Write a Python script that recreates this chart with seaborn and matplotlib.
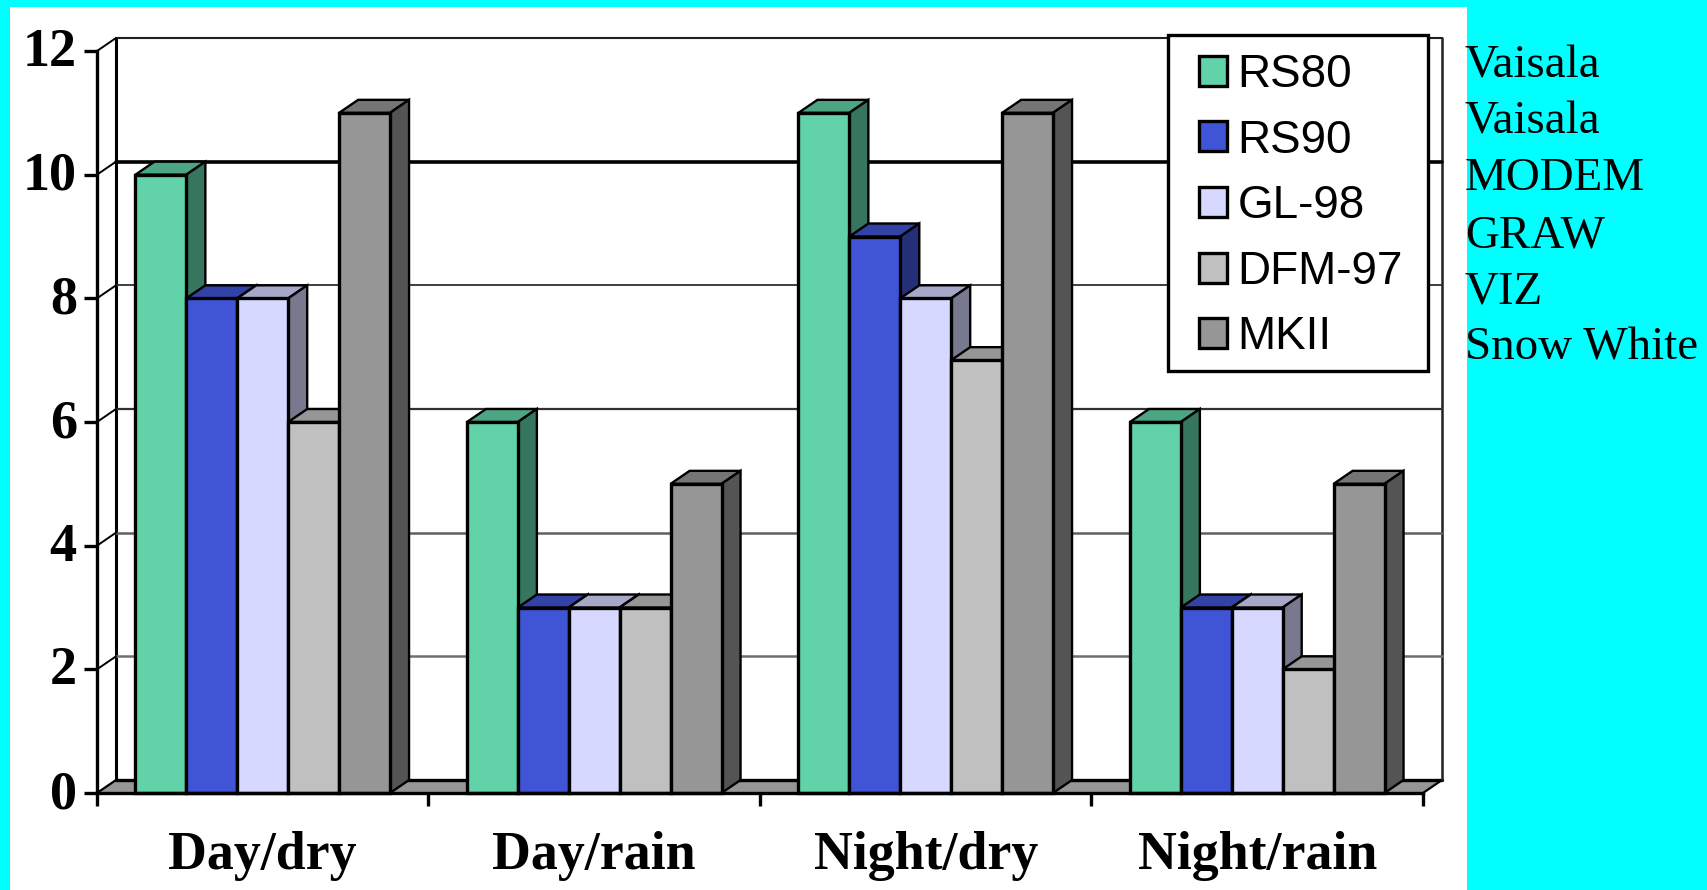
import pandas as pd
import matplotlib
matplotlib.use("Agg")
import matplotlib.pyplot as plt
import seaborn as sns
from matplotlib.patches import Polygon, Rectangle
from matplotlib.transforms import ScaledTranslation

# Values
conditions = ['Day/dry', 'Day/rain', 'Night/dry', 'Night/rain']
rs80 = [10, 6, 11, 6]
rs90 = [8, 3, 9, 3]
gl98 = [8, 3, 8, 3]
dfm97 = [6, 3, 7, 2]
mkii = [11, 5, 11, 5]
sonde_names = ['RS80', 'RS90', 'GL-98', 'DFM-97', 'MKII']
makers = ['Vaisala', 'Vaisala', 'MODEM', 'GRAW', 'VIZ', 'Snow White']
y_ticks = [0, 2, 4, 6, 8, 10, 12]

colors = ['#62D3A8', '#4054D6', '#D6D8FF', '#C0C0C0', '#969696']
# grid lines come out uneven in the original, so each has its own look
grid_style = {2: ('#707070', 1.8), 4: ('#606060', 1.8), 6: ('#303030', 1.6),
              8: ('#303030', 1.3), 10: ('#000000', 2.6), 12: ('#202020', 1.5)}

rows = []
for name, vals in zip(sonde_names, [rs80, rs90, gl98, dfm97, mkii]):
    for cond, v in zip(conditions, vals):
        rows.append({'condition': cond, 'sonde': name, 'count': v})
df = pd.DataFrame(rows)

W, H = 1708, 890
sns.set_style('white')
plt.rcParams['font.family'] = ['Liberation Serif', 'DejaVu Serif']
plt.rcParams['text.color'] = 'black'

fig = plt.figure(figsize=(W / 100, H / 100), dpi=100, facecolor='#00FFFF')
fig.patches.append(Rectangle((10 / W, 0), 1457 / W, 1 - 7 / H, transform=fig.transFigure,
                             facecolor='white', edgecolor='none', zorder=-5))

ax = fig.add_axes([97 / W, 1 - 793 / H, 1326 / W, 742 / H])
ax.patch.set_alpha(0)

sns.barplot(data=df, x='condition', y='count', hue='sonde', hue_order=sonde_names,
            order=conditions, palette=colors, saturation=1, width=0.768,
            edgecolor='black', linewidth=2.4, ax=ax)
ax.set_xlim(-0.5, 3.5)
ax.set_ylim(0, 12)

# fake 3D depth
dx = 19 / (1326 / 4)
dy = 13 / (742 / 12)
x0, x1 = ax.get_xlim()


def shade(col, f):
    r, g, b = matplotlib.colors.to_rgb(col)
    return (r * f, g * f, b * f)


# floor and back wall
ax.add_patch(Polygon([(x0, 0), (x0 + dx, dy), (x1 + dx, dy), (x1, 0)], closed=True,
                     facecolor='#969696', edgecolor='none', clip_on=False, zorder=0.5))
ax.plot([x0 + dx, x1 + dx], [dy, dy], color='black', lw=2.4, clip_on=False, zorder=1)
ax.plot([x0, x0 + dx], [0, dy], color='black', lw=1.6, clip_on=False, zorder=1)
ax.plot([x1, x1 + dx], [0, dy], color='black', lw=1.6, clip_on=False, zorder=1)
ax.plot([x0 + dx, x0 + dx], [dy, 12 + dy], color='black', lw=2.2, clip_on=False, zorder=1)
ax.plot([x1 + dx, x1 + dx], [dy, 12 + dy], color='#202020', lw=1.8, clip_on=False, zorder=1)
for t, (c, lw) in grid_style.items():
    ax.plot([x0 + dx, x1 + dx], [t + dy, t + dy], color=c, lw=lw, clip_on=False, zorder=1)
    ax.plot([x0, x0 + dx], [t, t + dy], color='black', lw=1.4, clip_on=False, zorder=1)

# bars are painted left to right so the next bar hides the side of the last one
for s, bars in enumerate(ax.containers):
    col = colors[s]
    z = 5 + s
    for bar in bars:
        bx, bw, bh = bar.get_x(), bar.get_width(), bar.get_height()
        top = [(bx, bh), (bx + dx, bh + dy), (bx + bw + dx, bh + dy), (bx + bw, bh)]
        side = [(bx + bw, 0), (bx + bw + dx, dy), (bx + bw + dx, bh + dy), (bx + bw, bh)]
        ax.add_patch(Polygon(top, closed=True, facecolor=shade(col, 0.78), edgecolor='black',
                             lw=1.7, clip_on=False, zorder=z))
        ax.add_patch(Polygon(side, closed=True, facecolor=shade(col, 0.56), edgecolor='black',
                             lw=1.7, clip_on=False, zorder=z))
        bar.set_zorder(z + 0.5)
        bar.set_clip_on(False)

sns.despine(ax=ax, top=True, right=True)
for sp in ['left', 'bottom']:
    ax.spines[sp].set_linewidth(2.4)
    ax.spines[sp].set_color('black')
    ax.spines[sp].set_zorder(20)

ax.set_xlabel('')
ax.set_ylabel('')
ax.set_yticks(y_ticks)
ax.set_xticks([x0, x0 + 1, x0 + 2, x0 + 3, x1], minor=False)
ax.set_xticklabels([])
ax.tick_params(axis='both', length=9.5, width=2.4, color='black', direction='out',
               bottom=True, left=True, labelcolor='black')
ax.tick_params(axis='y', labelsize=39, pad=5)
for lab in ax.get_yticklabels():
    lab.set_fontweight('bold')
    lab.set_verticalalignment('center')
    lab.set_transform(lab.get_transform() + ScaledTranslation(0, -1.5 / 72, fig.dpi_scale_trans))
for i, cond in enumerate(conditions):
    ax.annotate(cond, xy=(i, 0), xycoords='data', xytext=(0, -27.5), textcoords='offset points',
                ha='center', va='top', fontsize=38.8, fontweight='bold', color='black',
                annotation_clip=False)

# legend frame is its own box, the padding in the original is not even
frame = Rectangle((1168 / W, 1 - 371 / H), 260 / W, 336 / H, transform=fig.transFigure,
                  facecolor='white', edgecolor='black', lw=2.4, clip_on=False, zorder=29)
ax.add_patch(frame)
handles, labels = ax.get_legend_handles_labels()
leg = ax.legend(handles, labels, loc='upper left', bbox_to_anchor=(1198.5 / W, 1 - 53 / H),
                bbox_transform=fig.transFigure, frameon=False, borderaxespad=0, borderpad=0,
                title=None, prop={'family': 'Liberation Sans', 'size': 33}, labelcolor='black',
                labelspacing=0.47, handlelength=0.63, handleheight=0.63, handletextpad=0.22)
leg.set_zorder(30)
for h in leg.get_patches():
    h.set_linewidth(2.4)

# maker names on the cyan strip
for name, base in zip(makers, [77, 134, 190, 247, 303, 360]):
    fig.text(1465 / W, 1 - base / H, name, ha='left', va='baseline', fontsize=33.8,
             family='Liberation Serif', color='black')

fig.savefig('out.png', dpi=100, facecolor=fig.get_facecolor())
